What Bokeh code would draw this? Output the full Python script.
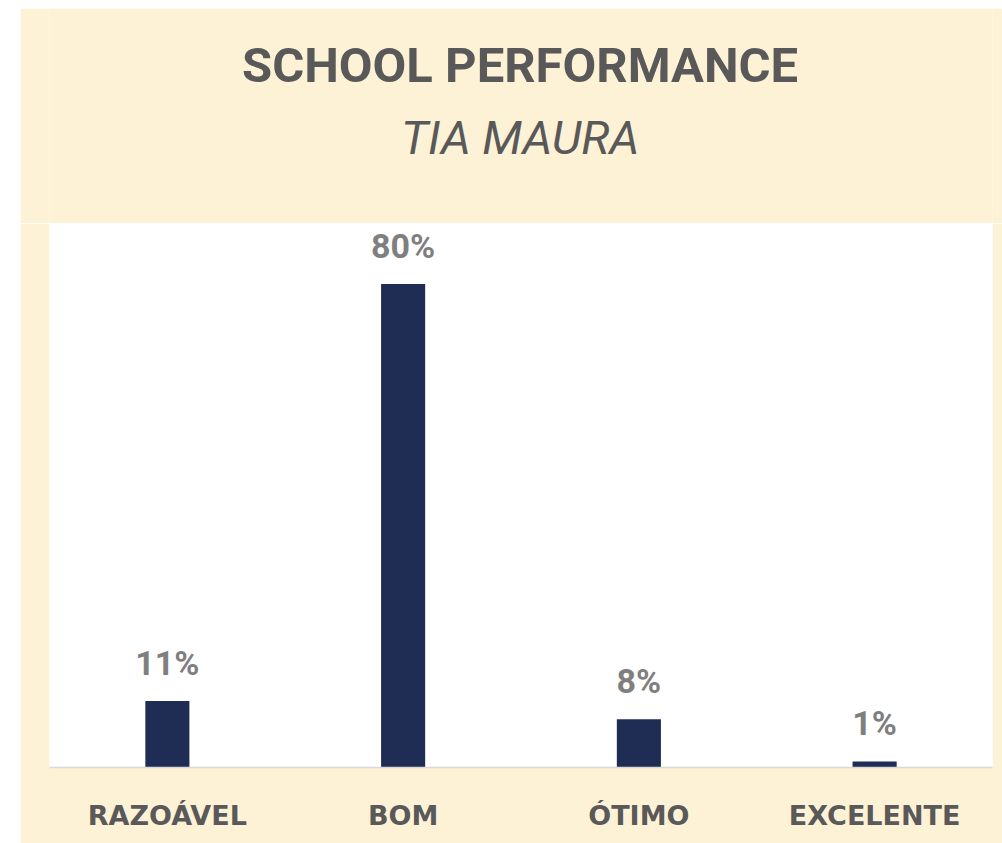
from bokeh.plotting import figure
from bokeh.layouts import column
from bokeh.models import FactorRange, Range1d, ColumnDataSource, LabelSet
from bokeh.core.properties import value
from bokeh.embed import file_html
from bokeh.resources import INLINE

categories = ["RAZOÁVEL", "BOM", "ÓTIMO", "EXCELENTE"]
values = [11, 80, 8, 1]
labels = ["11%", "80%", "8%", "1%"]
title_text = "SCHOOL PERFORMANCE"
subtitle_text = "TIA MAURA"

CREAM = "#FEF2D6"
NAVY = "#1F2D55"
DARK = "#595959"
LABEL_GRAY = "#7F7F7F"
Y_MAX = 90
W = 982
HEAD_H = 215

# ---- heading panel ----
head = figure(
    width=W, height=HEAD_H,
    x_range=Range1d(0, W), y_range=Range1d(0, HEAD_H),
    output_backend="svg", toolbar_location=None,
    x_axis_location=None, y_axis_location=None,
    min_border=0, border_fill_color=CREAM, background_fill_color=CREAM,
    outline_line_color=None,
)
head.xgrid.grid_line_color = None
head.ygrid.grid_line_color = None
cx = 490
head.text(x=[cx], y=[158], text=[title_text], text_align="center", text_baseline="alphabetic",
          text_font=value("Roboto"), text_font_style="bold", text_font_size="49px",
          text_color=DARK)
head.text(x=[cx], y=[86], text=[subtitle_text], text_align="center", text_baseline="alphabetic",
          text_font=value("Roboto"), text_font_style="italic", text_font_size="47px",
          text_color=DARK)

# ---- chart ----
src = ColumnDataSource(dict(cat=categories, val=values, lab=labels))

p = figure(
    width=W, height=620,
    x_range=FactorRange(factors=categories, range_padding=0),
    y_range=Range1d(0, Y_MAX),
    output_backend="svg", toolbar_location=None,
    min_border_left=29, min_border_right=10, min_border_top=0, min_border_bottom=76,
    border_fill_color=CREAM, background_fill_color="white",
    outline_line_color=None,
)

p.vbar(x="cat", top="val", width=0.187, source=src, fill_color=NAVY, line_color=None)

p.add_layout(LabelSet(x="cat", y="val", text="lab", source=src, text_align="center",
                      text_baseline="alphabetic", y_offset=26, text_font=value("Roboto"),
                      text_font_style="bold", text_font_size="34px", text_color=LABEL_GRAY))

p.yaxis.visible = False
p.xgrid.grid_line_color = None
p.ygrid.grid_line_color = None
p.xaxis.axis_line_color = "#D9D9D9"
p.xaxis.axis_line_width = 1.5
p.xaxis.major_tick_line_color = None
p.xaxis.minor_tick_line_color = None
p.xaxis.major_label_standoff = 26
p.xaxis.major_label_text_font = "DejaVu Sans"
p.xaxis.major_label_text_font_style = "bold"
p.xaxis.major_label_text_font_size = "27px"
p.xaxis.major_label_text_color = DARK

layout = column(head, p, spacing=0, margin=(8, 0, 0, 20))

open("out.html", "w").write(file_html(layout, INLINE))
